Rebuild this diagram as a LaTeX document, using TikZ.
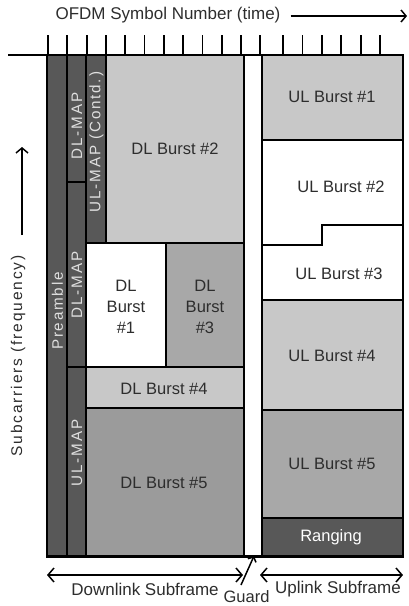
\documentclass[tikz,border=0pt]{standalone}
\usepackage{fontspec}
\setmainfont{Liberation Sans}
\newfontfamily\spacedfont[LetterSpace=12]{Liberation Sans}
\usetikzlibrary{arrows.meta}
\definecolor{mapgray}{RGB}{88,88,88}
\definecolor{lightcell}{RGB}{200,200,200}
\definecolor{midcell}{RGB}{168,168,168}
\definecolor{deepcell}{RGB}{155,155,155}
\definecolor{inktext}{RGB}{45,45,45}
\tikzset{
  cell/.style={draw=black, line width=1.8pt},
  lbl/.style={font=\fontsize{16.5}{21}\selectfont, text=inktext, align=center, inner sep=0pt},
  maplbl/.style={font=\spacedfont\fontsize{15.2}{17}\selectfont, text=white!88!black, rotate=90, inner sep=0pt},
  barb/.style={-{Straight Barb[length=5pt,width=12pt]}, line width=1.5pt},
}
\begin{document}
\begin{tikzpicture}[x=1pt, y=-1pt]
\useasboundingbox (0,0) rectangle (409,606);

% === 时间轴 ===
\node[lbl, font=\fontsize{17}{20}\selectfont] (timelbl) at (168,15) {OFDM Symbol Number (time)};
\coordinate (timeend) at (407,16);
\draw[barb] ([xshift=10pt]timelbl.east |- timeend) -- (timeend);
\draw[line width=1.8pt] (8,55) -- (403,55);
\foreach \i in {0,...,11}
  \draw[line width=1.8pt] (48+19.3*\i,35) -- (48+19.3*\i,55);
\foreach \i in {0,...,5}
  \draw[line width=1.8pt] (283+19.4*\i,35) -- (283+19.4*\i,55);

% === 频率轴 ===
\node[lbl, font=\spacedfont\fontsize{15.5}{18}\selectfont, rotate=90] (freqlbl) at (18,356) {Subcarriers (frequency)};
\coordinate (freqend) at (22,147);
\draw[barb] (freqend |- 0,235) -- (freqend);

% === 下行子帧 ===
\path[cell, fill=mapgray] (47,55) rectangle (67,556);
\path[cell, fill=mapgray] (67,55) rectangle (86,182);
\path[cell, fill=mapgray] (67,182) rectangle (86,367);
\path[cell, fill=mapgray] (67,367) rectangle (86,556);
\path[cell, fill=mapgray] (86,55) rectangle (106,243);
\node[maplbl] (pre) at (57.5,311) {Preamble};
\node[maplbl] (dlmapa) at (77,126) {DL-MAP};
\node[maplbl] (dlmapb) at (77,285) {DL-MAP};
\node[maplbl] (ulmap) at (77,453) {UL-MAP};
\node[maplbl] (ulmapc) at (96.5,142) {UL-MAP (Contd.)};

\path[cell, fill=lightcell] (106,55) rectangle (244,243);
\node[lbl] (dl2) at (175,149) {DL Burst \#2};
\path[cell, fill=white] (86,243) rectangle (166,367);
\node[lbl] (dl1) at (126,307) {DL\\Burst\\\#1};
\path[cell, fill=midcell] (166,243) rectangle (244,367);
\node[lbl] (dl3) at (205,307) {DL\\Burst\\\#3};
\path[cell, fill=lightcell] (86,367) rectangle (244,408);
\node[lbl] (dl4) at (164,389) {DL Burst \#4};
\path[cell, fill=deepcell] (86,408) rectangle (244,556);
\node[lbl] (dl5) at (164,483) {DL Burst \#5};

% === 保护间隔 ===
\path[cell, fill=white] (244,55) rectangle (262,556);
\coordinate (guardtop) at (254,556);

% === 上行子帧 ===
\path[cell, fill=lightcell] (262,55) rectangle (403,140);
\node[lbl] (ul1) at (332,97) {UL Burst \#1};
\path[cell, fill=white] (262,140) rectangle (403,300);
\draw[line width=1.8pt] (263,245) -- (322,245) -- (322,225) -- (402,225);
\node[lbl] (ul2) at (341,187) {UL Burst \#2};
\node[lbl] (ul3) at (339,274) {UL Burst \#3};
\path[cell, fill=lightcell] (262,300) rectangle (403,410);
\node[lbl] (ul4) at (332,356) {UL Burst \#4};
\path[cell, fill=midcell] (262,410) rectangle (403,518);
\node[lbl] (ul5) at (332,464) {UL Burst \#5};
\path[cell, fill=mapgray] (262,518) rectangle (403,556);
\node[lbl, text=white] (rng) at (331,537) {Ranging};
\draw[line width=3pt] (46,556) -- (404,556);

% === 子帧标注 ===
\coordinate (dlL) at (47,575);
\coordinate (dlR) at (243,575);
\coordinate (ulL) at (260,575);
\coordinate (ulR) at (403,575);
\draw[barb, {Straight Barb[length=6pt,width=14pt]}-{Straight Barb[length=6pt,width=14pt]}] (dlL) -- (dlR);
\draw[barb, {Straight Barb[length=6pt,width=14pt]}-{Straight Barb[length=6pt,width=14pt]}] (ulL) -- (ulR);
\node[lbl, font=\fontsize{17}{20}\selectfont] (dlsub) at (145,589) {Downlink Subframe};
\node[lbl, font=\fontsize{17}{20}\selectfont] (ulsub) at (338,589) {Uplink Subframe};
\node[lbl, font=\fontsize{16.5}{20}\selectfont] (guardlbl) at (246.5,596.5) {Guard};
\draw[-{Straight Barb[length=4pt,width=9pt]}, line width=1.5pt] (241,585) -- (guardtop);
\end{tikzpicture}
\end{document}
